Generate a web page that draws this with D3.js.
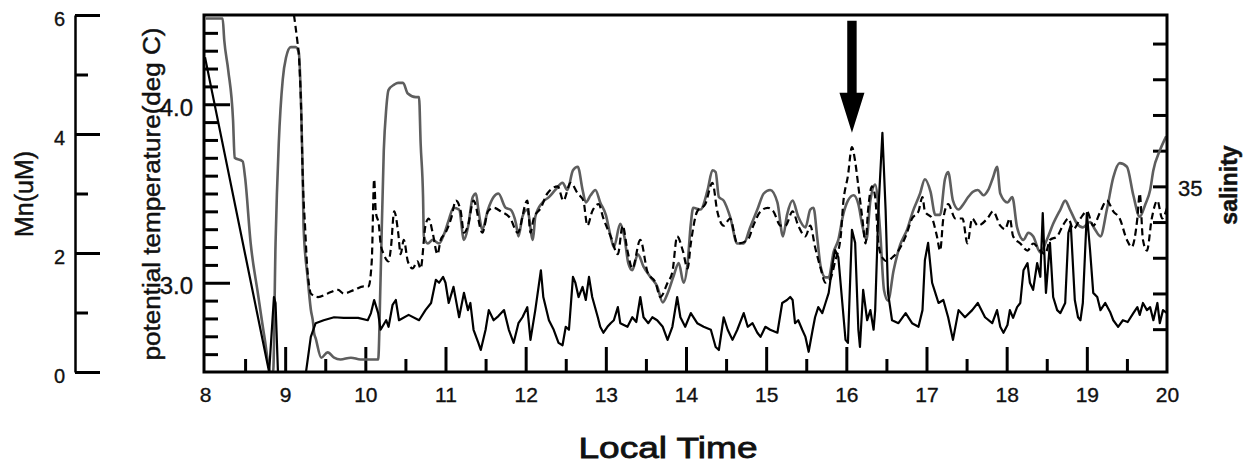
<!DOCTYPE html>
<html>
<head>
<meta charset="utf-8">
<style>
    body { margin: 0; background: #fff; }
    svg { display: block; font-family: 'Liberation Sans', Arial, sans-serif; }
    .axis text { font-family: 'Liberation Sans', Arial, sans-serif; stroke: #111; stroke-width: 0.35px; }
    .axis .domain { stroke: #000; stroke-width: 2.5; }
    .axis .tick line { stroke: #000; stroke-width: 3; }
    .axis .tick text { fill: #111; }
    .xlab text { font-size: 21px; }
    .mnlab text { font-size: 20px; }
    .tlab text { font-size: 24px; }
    .slab text { font-size: 22px; }
    .title { fill: #111; stroke: #111; stroke-width: 0.45px; }
</style>
</head>
<body>
<svg width="1247" height="464"></svg>
<script src="https://d3js.org/d3.v7.min.js"></script>
<script>
    // Mn (uM), solid black line, left outer axis
    const mnSeries = [[8.00,5.29],[8.80,0],[8.86,1.26],[8.88,1.16],[8.91,0],[9.26,0],[9.32,0.59],[9.38,0.82],[9.48,0.87],[9.61,0.92],[9.73,0.91],[9.91,0.91],[10.03,0.87],[10.07,0.99],[10.11,1.21],[10.16,0.99],[10.19,0.71],[10.26,0.87],[10.29,0.76],[10.34,1.13],[10.38,1.21],[10.42,0.87],[10.54,0.96],[10.67,0.87],[10.75,1.04],[10.82,1.16],[10.88,1.55],[10.92,1.50],[10.97,1.60],[11.00,1.50],[11.04,1.16],[11.10,1.43],[11.17,0.92],[11.23,1.33],[11.28,1.04],[11.31,1.16],[11.35,0.71],[11.41,0.49],[11.44,0.37],[11.50,0.71],[11.54,1.04],[11.60,0.87],[11.66,0.94],[11.73,1.04],[11.79,0.71],[11.85,0.49],[11.91,0.82],[11.96,0.92],[12.02,1.09],[12.06,0.54],[12.12,1.04],[12.19,1.71],[12.22,1.26],[12.29,0.87],[12.35,0.71],[12.41,0.49],[12.46,0.45],[12.50,0.76],[12.54,0.71],[12.59,1.60],[12.62,1.50],[12.66,1.26],[12.71,1.43],[12.75,1.21],[12.79,1.60],[12.83,1.26],[12.90,0.92],[12.93,0.76],[12.97,0.66],[13.02,0.76],[13.06,0.82],[13.10,0.87],[13.15,1.09],[13.18,0.82],[13.27,0.76],[13.33,0.92],[13.38,0.84],[13.43,1.26],[13.47,0.92],[13.53,0.82],[13.58,0.92],[13.64,0.87],[13.71,0.76],[13.77,0.54],[13.83,0.76],[13.89,1.26],[13.93,0.92],[13.99,0.76],[14.06,0.99],[14.14,0.82],[14.22,0.76],[14.31,0.71],[14.37,0.42],[14.41,0.37],[14.47,0.92],[14.52,0.71],[14.58,0.54],[14.64,0.71],[14.72,0.99],[14.77,0.76],[14.83,0.82],[14.89,0.66],[14.93,0.59],[14.99,0.76],[15.05,0.71],[15.14,0.66],[15.20,1.16],[15.26,1.21],[15.30,1.26],[15.33,1.21],[15.36,0.82],[15.40,0.87],[15.45,0.71],[15.49,0.59],[15.53,0.34],[15.58,0.71],[15.61,0.92],[15.65,1.09],[15.70,0.99],[15.74,1.16],[15.78,1.33],[15.83,1.83],[15.86,2.05],[15.90,1.93],[15.95,1.16],[15.99,0.54],[16.02,0.49],[16.07,2.39],[16.11,2.17],[16.15,0.71],[16.17,0.42],[16.21,1.38],[16.26,0.87],[16.30,1.04],[16.34,0.71],[16.36,1.04],[16.40,2.72],[16.45,4.02],[16.49,2.72],[16.52,1.33],[16.57,0.87],[16.65,0.82],[16.74,0.99],[16.82,0.82],[16.90,0.76],[16.95,1.04],[16.98,1.88],[17.02,2.17],[17.07,1.50],[17.11,1.33],[17.15,1.16],[17.21,1.21],[17.27,0.92],[17.33,0.54],[17.40,1.04],[17.48,0.92],[17.57,1.04],[17.64,1.16],[17.73,0.92],[17.82,0.82],[17.88,1.04],[17.92,0.76],[17.96,0.66],[18.01,0.79],[18.04,1.04],[18.08,0.91],[18.13,1.09],[18.17,1.16],[18.21,1.71],[18.26,1.83],[18.29,1.50],[18.33,1.38],[18.38,1.83],[18.42,1.60],[18.45,2.67],[18.49,1.33],[18.54,2.17],[18.58,1.26],[18.63,1.04],[18.67,0.99],[18.73,1.16],[18.77,2.34],[18.80,2.47],[18.85,1.21],[18.89,0.92],[18.92,0.87],[18.95,1.16],[19.00,2.67],[19.04,2.05],[19.08,1.33],[19.13,1.26],[19.17,1.04],[19.23,1.16],[19.29,1.01],[19.33,0.87],[19.39,0.76],[19.45,0.87],[19.51,0.84],[19.58,0.99],[19.63,1.09],[19.66,0.96],[19.70,1.16],[19.75,1.04],[19.79,1.09],[19.83,0.87],[19.88,1.16],[19.91,0.82],[19.95,1.04],[20.00,0.99]]

    // potential temperature (deg C), grey line, inner left axis
    const tempSeries = [[8.01,4.48],[8.22,4.48],[8.24,4.36],[8.29,4.19],[8.35,3.91],[8.37,3.70],[8.47,3.68],[8.50,3.59],[8.57,3.22],[8.66,2.94],[8.74,2.70],[8.82,2.50],[8.85,2.50],[8.88,3.22],[8.92,3.78],[8.97,4.14],[9.01,4.26],[9.07,4.32],[9.13,4.32],[9.17,4.29],[9.20,3.97],[9.22,3.59],[9.23,3.31],[9.28,3.03],[9.32,2.85],[9.35,2.77],[9.36,2.72],[9.38,2.69],[9.45,2.58],[9.53,2.61],[9.61,2.58],[9.69,2.57],[9.82,2.58],[9.94,2.57],[10.11,2.57],[10.16,2.57],[10.19,3.02],[10.23,3.74],[10.26,3.97],[10.29,4.08],[10.36,4.11],[10.41,4.12],[10.47,4.12],[10.53,4.06],[10.63,4.04],[10.67,4.04],[10.69,3.78],[10.72,3.48],[10.73,3.26],[10.78,3.22],[10.84,3.24],[10.92,3.22],[10.98,3.27],[11.04,3.35],[11.10,3.42],[11.17,3.41],[11.23,3.24],[11.28,3.31],[11.34,3.48],[11.38,3.50],[11.41,3.41],[11.46,3.30],[11.53,3.41],[11.60,3.48],[11.66,3.50],[11.75,3.42],[11.81,3.41],[11.88,3.33],[11.91,3.26],[11.96,3.37],[12.02,3.41],[12.09,3.24],[12.12,3.37],[12.21,3.45],[12.29,3.48],[12.37,3.52],[12.46,3.56],[12.52,3.52],[12.59,3.63],[12.65,3.65],[12.71,3.52],[12.75,3.45],[12.81,3.49],[12.87,3.52],[12.93,3.45],[13.00,3.38],[13.06,3.26],[13.10,3.20],[13.18,3.33],[13.23,3.26],[13.28,3.11],[13.33,3.07],[13.40,3.16],[13.47,3.09],[13.56,3.03],[13.64,2.98],[13.71,2.89],[13.77,2.94],[13.84,3.03],[13.91,3.11],[13.97,3.00],[14.02,3.11],[14.06,3.33],[14.09,3.42],[14.18,3.41],[14.27,3.52],[14.33,3.63],[14.37,3.62],[14.41,3.48],[14.47,3.46],[14.55,3.37],[14.64,3.22],[14.72,3.22],[14.80,3.31],[14.89,3.41],[14.97,3.50],[15.05,3.52],[15.14,3.45],[15.21,3.26],[15.26,3.38],[15.33,3.46],[15.40,3.37],[15.49,3.31],[15.55,3.41],[15.59,3.42],[15.64,3.24],[15.68,3.09],[15.74,3.03],[15.78,3.03],[15.84,3.17],[15.90,3.24],[15.96,3.38],[16.02,3.46],[16.09,3.49],[16.15,3.44],[16.20,3.32],[16.25,3.24],[16.30,3.46],[16.36,3.55],[16.42,3.30],[16.47,2.96],[16.52,2.90],[16.59,3.07],[16.67,3.21],[16.76,3.30],[16.83,3.40],[16.92,3.50],[16.98,3.58],[17.05,3.51],[17.11,3.38],[17.17,3.38],[17.23,3.58],[17.27,3.62],[17.33,3.46],[17.40,3.41],[17.46,3.44],[17.52,3.48],[17.58,3.51],[17.64,3.52],[17.71,3.49],[17.77,3.52],[17.83,3.59],[17.88,3.65],[17.92,3.50],[18.01,3.45],[18.07,3.48],[18.13,3.31],[18.21,3.24],[18.27,3.28],[18.33,3.26],[18.42,3.17],[18.50,3.24],[18.58,3.33],[18.67,3.41],[18.73,3.46],[18.79,3.41],[18.88,3.33],[18.95,3.31],[19.04,3.34],[19.10,3.30],[19.17,3.26],[19.25,3.41],[19.33,3.59],[19.41,3.67],[19.50,3.65],[19.58,3.49],[19.66,3.37],[19.73,3.44],[19.79,3.52],[19.83,3.63],[19.91,3.74],[19.99,3.82]]

    // salinity, dashed black line, right axis
    const salSeries = [[9.11,35.48],[9.15,35.41],[9.17,35.37],[9.20,35.21],[9.22,35.02],[9.25,34.88],[9.27,34.79],[9.30,34.72],[9.32,34.70],[9.41,34.69],[9.53,34.70],[9.66,34.71],[9.73,34.70],[9.86,34.71],[9.98,34.72],[10.04,34.72],[10.08,34.79],[10.11,35.02],[10.13,34.93],[10.17,34.89],[10.19,34.84],[10.23,34.81],[10.29,34.79],[10.32,34.83],[10.36,34.93],[10.41,34.87],[10.44,34.81],[10.48,34.85],[10.53,34.79],[10.59,34.77],[10.65,34.79],[10.69,34.77],[10.75,34.89],[10.79,34.91],[10.84,34.87],[10.90,34.81],[10.94,34.85],[11.00,34.87],[11.07,34.91],[11.13,34.96],[11.19,34.93],[11.23,34.87],[11.28,34.89],[11.35,34.96],[11.46,34.87],[11.53,34.93],[11.60,34.94],[11.69,34.93],[11.81,34.91],[11.90,34.87],[12.02,34.96],[12.06,34.87],[12.10,34.91],[12.19,34.94],[12.27,34.98],[12.40,35.00],[12.47,34.96],[12.56,35.01],[12.65,34.98],[12.72,34.96],[12.77,34.89],[12.83,34.93],[12.91,34.95],[12.97,34.91],[13.06,34.86],[13.15,34.81],[13.21,34.89],[13.27,34.82],[13.33,34.77],[13.43,34.85],[13.52,34.76],[13.62,34.73],[13.68,34.69],[13.77,34.73],[13.83,34.76],[13.89,34.86],[13.96,34.82],[14.02,34.77],[14.06,34.84],[14.14,34.93],[14.24,34.95],[14.33,35.01],[14.39,34.93],[14.47,34.89],[14.55,34.91],[14.64,34.84],[14.77,34.85],[14.84,34.89],[14.93,34.93],[15.02,34.94],[15.09,34.93],[15.18,34.89],[15.24,34.89],[15.33,34.93],[15.40,34.89],[15.49,34.86],[15.55,34.89],[15.61,34.83],[15.68,34.77],[15.74,34.73],[15.80,34.74],[15.86,34.79],[15.93,34.86],[15.96,34.95],[16.02,35.03],[16.07,35.11],[16.11,35.07],[16.15,35.00],[16.20,34.91],[16.24,34.84],[16.27,34.93],[16.32,35.00],[16.36,34.97],[16.40,34.84],[16.45,34.80],[16.51,34.79],[16.57,34.80],[16.65,34.82],[16.74,34.86],[16.82,34.91],[16.90,34.93],[16.95,34.97],[16.98,34.93],[17.07,34.91],[17.13,34.86],[17.17,34.82],[17.21,34.91],[17.27,34.95],[17.36,34.91],[17.45,34.91],[17.51,34.84],[17.57,34.91],[17.64,34.89],[17.76,34.91],[17.83,34.93],[17.92,34.89],[17.98,34.88],[18.04,34.91],[18.08,34.86],[18.17,34.84],[18.26,34.82],[18.33,34.84],[18.42,34.82],[18.48,34.81],[18.54,34.85],[18.63,34.86],[18.70,34.89],[18.77,34.91],[18.83,34.88],[18.92,34.91],[19.00,34.93],[19.08,34.89],[19.17,34.93],[19.25,34.96],[19.33,34.93],[19.41,34.91],[19.50,34.85],[19.56,34.83],[19.63,34.91],[19.66,34.98],[19.70,34.85],[19.75,34.82],[19.81,34.91],[19.88,34.96],[19.94,34.91],[20.00,34.94]]

    const hourTicks = [9, 10, 11, 12, 13, 14, 15, 16, 17, 18, 19]
    const halfHourTicks = [8.5, 9.5, 10.5, 11.5, 12.5, 13.5, 14.5, 15.5, 16.5, 17.5, 18.5, 19.5]
    const hourLabels = [8, 9, 10, 11, 12, 13, 14, 15, 16, 17, 18, 19, 20]
    const mnMajor = [0, 2, 4, 6]
    const mnMinor = [1, 3, 5]
    const tempMajor = [3.0, 4.0]
    const tempMinor = [2.6, 2.7, 2.8, 2.9, 3.1, 3.2, 3.3, 3.4, 3.5, 3.6, 3.7, 3.8, 3.9, 4.1, 4.2, 4.3, 4.4]
    const salTicks = [34.6, 34.7, 34.8, 34.9, 35.0, 35.1, 35.2, 35.3, 35.4]
    const salLabels = [35]
    const arrowTip = [16.07, 35.15]

    let svg = d3.select("svg")
    let plotLeft = 204, plotRight = 1167, plotTop = 15, plotBottom = 372

    let x = d3.scaleLinear().domain([8, 20]).range([205, plotRight])
    let yMn = d3.scaleLinear().domain([0, 6]).range([plotBottom, plotTop])
    let yT = d3.scaleLinear().domain([2.5, 4.5]).range([plotBottom, plotTop])
    let yS = d3.scaleLinear().domain([34.48, 35.48]).range([plotBottom, plotTop])

    svg.append("defs").append("clipPath").attr("id", "plot")
        .append("rect")
        .attr("x", plotLeft).attr("y", plotTop)
        .attr("width", plotRight - plotLeft).attr("height", plotBottom - plotTop)

    // Mn axis (outer left)
    svg.append("g").attr("class", "axis")
        .attr("transform", "translate(75,0)")
        .call(d3.axisRight(yMn).tickValues(mnMajor).tickSize(25).tickSizeOuter(0).tickFormat(""))
    svg.append("g").attr("class", "axis")
        .attr("transform", "translate(75,0)")
        .call(d3.axisRight(yMn).tickValues(mnMinor).tickSize(13).tickFormat(""))
        .call(g => g.select(".domain").remove())
    svg.append("g").attr("class", "axis mnlab")
        .attr("transform", "translate(75,0)")
        .call(d3.axisLeft(yMn).tickValues(mnMajor).tickSize(0).tickPadding(10).tickFormat(d3.format("d")))
        .call(g => g.select(".domain").remove())
        .call(g => g.selectAll("text").attr("dy", "0.5em"))

    // temperature axis (inner left)
    svg.append("g").attr("class", "axis")
        .attr("transform", "translate(" + plotLeft + ",0)")
        .call(d3.axisRight(yT).tickValues(tempMinor).tickSize(14).tickFormat(""))
        .call(g => g.select(".domain").remove())
    svg.append("g").attr("class", "axis")
        .attr("transform", "translate(" + plotLeft + ",0)")
        .call(d3.axisRight(yT).tickValues(tempMajor).tickSize(26).tickFormat(""))
        .call(g => g.select(".domain").remove())
    svg.append("g").attr("class", "axis tlab")
        .attr("transform", "translate(" + plotLeft + ",0)")
        .call(d3.axisLeft(yT).tickValues(tempMajor).tickSize(0).tickPadding(11).tickFormat(d3.format(".1f")))
        .call(g => g.select(".domain").remove())
        .call(g => g.selectAll("text").attr("dy", "0.45em"))

    // salinity axis (right)
    svg.append("g").attr("class", "axis")
        .attr("transform", "translate(" + plotRight + ",0)")
        .call(d3.axisLeft(yS).tickValues(salTicks).tickSize(14).tickFormat(""))
        .call(g => g.select(".domain").remove())
    svg.append("g").attr("class", "axis slab")
        .attr("transform", "translate(" + plotRight + ",0)")
        .call(d3.axisRight(yS).tickValues(salLabels).tickSize(0).tickPadding(11).tickFormat(d3.format("d")))
        .call(g => g.select(".domain").remove())
        .call(g => g.selectAll("text").attr("dy", "0.4em"))

    // time axis, ticks pointing into the plot
    svg.append("g").attr("class", "axis")
        .attr("transform", "translate(0," + plotBottom + ")")
        .call(d3.axisTop(x).tickValues(hourTicks).tickSize(25).tickFormat(""))
        .call(g => g.select(".domain").remove())
    svg.append("g").attr("class", "axis")
        .attr("transform", "translate(0," + plotBottom + ")")
        .call(d3.axisTop(x).tickValues(halfHourTicks).tickSize(13).tickFormat(""))
        .call(g => g.select(".domain").remove())
    svg.append("g").attr("class", "axis xlab")
        .attr("transform", "translate(0," + plotBottom + ")")
        .call(d3.axisBottom(x).tickValues(hourLabels).tickSize(0).tickPadding(15))
        .call(g => g.select(".domain").remove())

    // series
    let lines = svg.append("g").attr("clip-path", "url(#plot)")

    lines.append("path")
        .datum(tempSeries)
        .attr("fill", "none")
        .attr("stroke", "#5e5e5e")
        .attr("stroke-width", 2.6)
        .attr("stroke-linejoin", "round")
        .attr("d", d3.line().x(d => x(d[0])).y(d => yT(d[1])).curve(d3.curveMonotoneX))

    lines.append("path")
        .datum(salSeries)
        .attr("fill", "none")
        .attr("stroke", "#000")
        .attr("stroke-width", 2.2)
        .attr("stroke-dasharray", "7,4")
        .attr("d", d3.line().x(d => x(d[0])).y(d => yS(d[1])).curve(d3.curveMonotoneX))

    lines.append("path")
        .datum(mnSeries)
        .attr("fill", "none")
        .attr("stroke", "#000")
        .attr("stroke-width", 2.2)
        .attr("stroke-linejoin", "round")
        .attr("d", d3.line().x(d => x(d[0])).y(d => yMn(d[1])))

    // frame
    svg.append("path")
        .attr("fill", "none")
        .attr("stroke", "#000")
        .attr("stroke-width", 3)
        .attr("d", "M" + plotLeft + "," + plotBottom + "V" + plotTop + "H" + plotRight + "V" + plotBottom + "Z")

    // arrow
    let ax = x(arrowTip[0]), ay = yS(arrowTip[1])
    svg.append("path")
        .attr("fill", "#000")
        .attr("d", "M" + ax + "," + ay +
            "L" + (ax - 12.5) + "," + (ay - 40) +
            "L" + (ax - 4.7) + "," + (ay - 40) +
            "L" + (ax - 4.7) + "," + (ay - 112) +
            "L" + (ax + 4.7) + "," + (ay - 112) +
            "L" + (ax + 4.7) + "," + (ay - 40) +
            "L" + (ax + 12.5) + "," + (ay - 40) + "Z")

    // titles
    svg.append("text").attr("class", "title")
        .attr("transform", "translate(33,194) rotate(-90)")
        .attr("text-anchor", "middle")
        .style("font-size", "25px")
        .text("Mn(uM)")

    svg.append("text").attr("class", "title")
        .attr("transform", "translate(160,194) rotate(-90)")
        .attr("text-anchor", "middle")
        .attr("textLength", 333)
        .attr("lengthAdjust", "spacingAndGlyphs")
        .style("font-size", "23px")
        .text("potential temperature(deg C)")

    svg.append("text").attr("class", "title")
        .attr("transform", "translate(1237,185) rotate(-90)")
        .attr("text-anchor", "middle")
        .style("font-size", "23px")
        .style("font-weight", "bold")
        .text("salinity")

    svg.append("text").attr("class", "title")
        .attr("x", 668)
        .attr("y", 458)
        .attr("text-anchor", "middle")
        .attr("textLength", 179)
        .attr("lengthAdjust", "spacingAndGlyphs")
        .style("font-size", "29px")
        .style("stroke-width", "0.8px")
        .text("Local Time")
</script>
</body>
</html>
